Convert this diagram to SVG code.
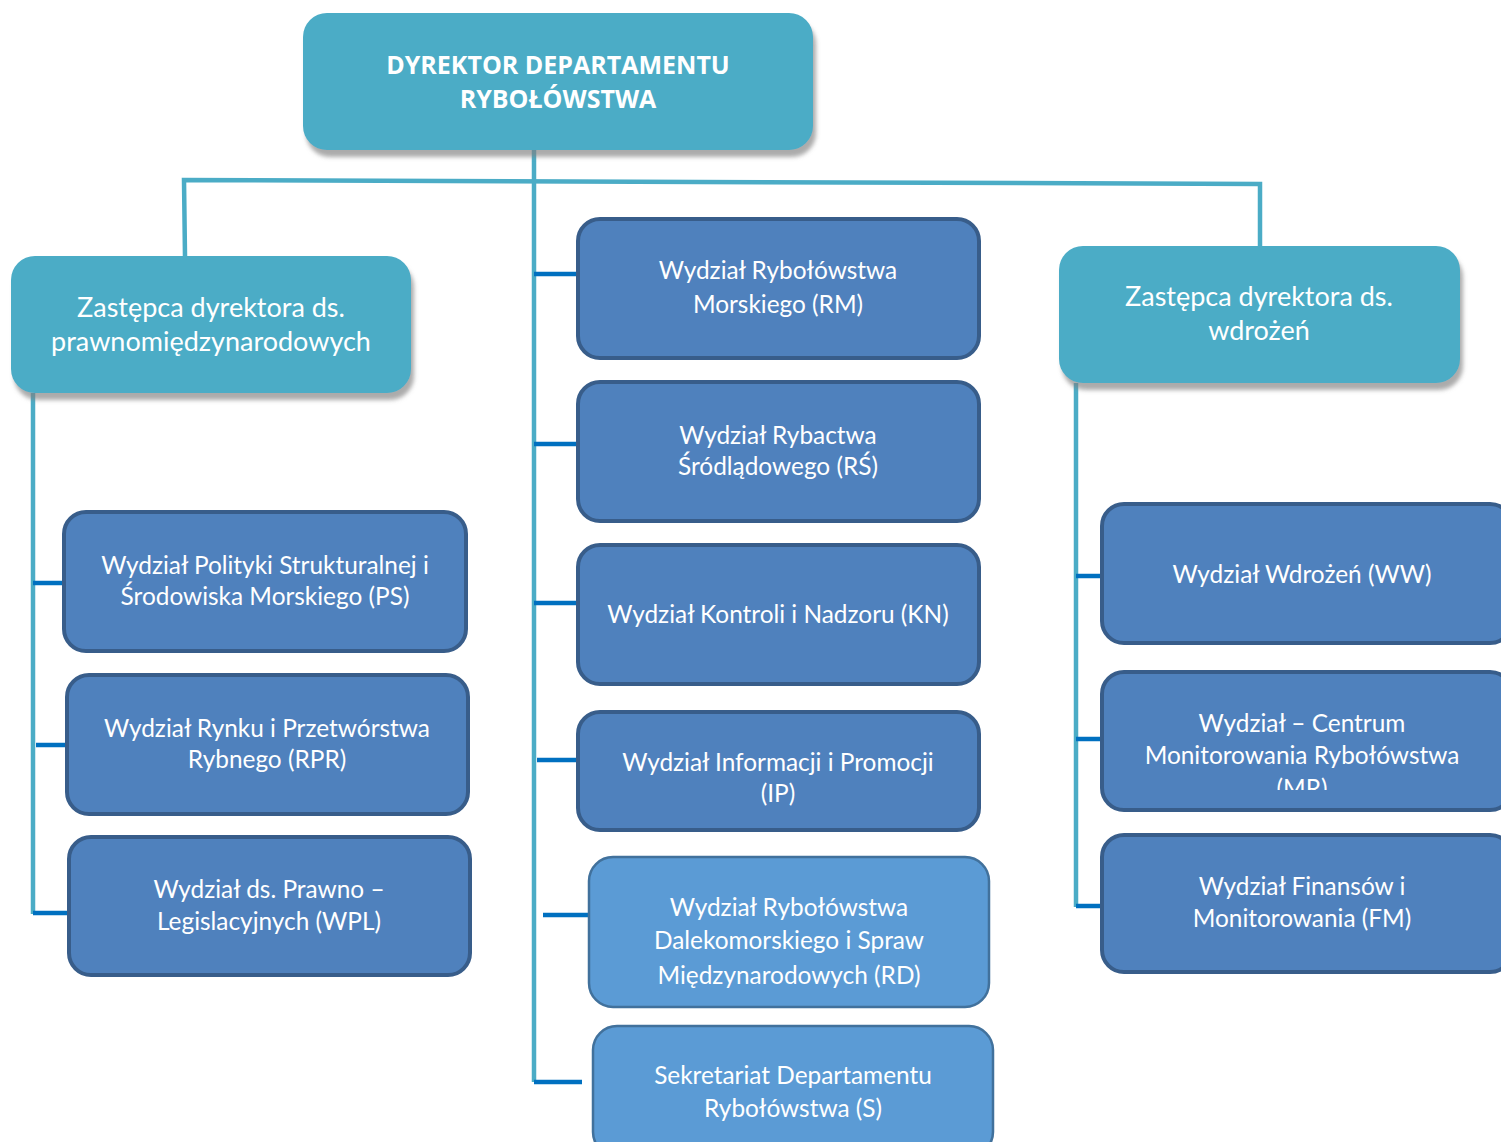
<svg xmlns="http://www.w3.org/2000/svg" width="1501" height="1142" viewBox="0 0 1501 1142">
<defs>
<filter id="sh" x="-10%" y="-10%" width="125%" height="140%">
<feDropShadow dx="3" dy="7" stdDeviation="2" flood-color="#7f7f7f" flood-opacity="0.65"/>
</filter>
<clipPath id="clipMR"><rect x="1101" y="671" width="400" height="119"/></clipPath>
</defs>
<style>
.lead{fill:#4BACC6;}
.dept{fill:#4F81BD;stroke:#385D8A;stroke-width:4;}
.light{fill:#5B9BD5;stroke:#41719C;stroke-width:2.5;}
.t{font-family:Lato,"Open Sans","Noto Sans",sans-serif;font-size:24.4px;fill:#ffffff;text-anchor:middle;}
.tl{font-size:27px;}
.tb{font-family:"Open Sans","Noto Sans",sans-serif;font-weight:bold;font-size:25px;fill:#ffffff;text-anchor:middle;}
.trunk{stroke:#4BACC6;stroke-width:4.5;fill:none;}
.br{stroke:#0070C0;stroke-width:4.5;fill:none;}
</style>
<g id="connectors">
<polyline class="trunk" points="185,256 184,180 1260,184 1260,246"/>
<line class="trunk" x1="534" y1="150" x2="534" y2="1082"/>
<line class="trunk" x1="33" y1="393" x2="33" y2="914"/>
<line class="trunk" x1="1076" y1="383" x2="1076" y2="907"/>
<line class="br" x1="33" y1="583" x2="64" y2="583"/>
<line class="br" x1="36" y1="745" x2="67" y2="745"/>
<line class="br" x1="33" y1="913" x2="69" y2="913"/>
<line class="br" x1="534" y1="274" x2="578" y2="274"/>
<line class="br" x1="534" y1="444" x2="578" y2="444"/>
<line class="br" x1="534" y1="603" x2="580" y2="603"/>
<line class="br" x1="537" y1="760" x2="583" y2="760"/>
<line class="br" x1="543" y1="915" x2="589" y2="915"/>
<line class="br" x1="534" y1="1082" x2="582" y2="1082"/>
<line class="br" x1="1076" y1="576" x2="1102" y2="576"/>
<line class="br" x1="1076" y1="739" x2="1102" y2="739"/>
<line class="br" x1="1076" y1="906" x2="1102" y2="906"/>
</g>
<g id="dyrektor">
<rect class="lead" x="303" y="13" width="510" height="137" rx="24" filter="url(#sh)"/>
<text class="tb" x="558" y="74">DYREKTOR DEPARTAMENTU</text>
<text class="tb" x="558" y="108">RYBOŁÓWSTWA</text>
</g>
<g id="zastepca-prawno">
<rect class="lead" x="11" y="256" width="400" height="137" rx="24" filter="url(#sh)"/>
<text class="t tl" x="211" y="317">Zastępca dyrektora ds.</text>
<text class="t tl" x="211" y="351">prawnomiędzynarodowych</text>
</g>
<g id="zastepca-wdrozen">
<rect class="lead" x="1059" y="246" width="401" height="137" rx="24" filter="url(#sh)"/>
<text class="t tl" x="1259" y="306">Zastępca dyrektora ds.</text>
<text class="t tl" x="1259" y="340">wdrożeń</text>
</g>
<g id="ps">
<rect class="dept" x="64" y="512" width="402" height="139" rx="22"/>
<text class="t" x="265" y="574">Wydział Polityki Strukturalnej i</text>
<text class="t" x="265" y="605">Środowiska Morskiego (PS)</text>
</g>
<g id="rpr">
<rect class="dept" x="67" y="675" width="401" height="139" rx="22"/>
<text class="t" x="267" y="737">Wydział Rynku i Przetwórstwa</text>
<text class="t" x="267" y="768">Rybnego (RPR)</text>
</g>
<g id="wpl">
<rect class="dept" x="69" y="837" width="401" height="138" rx="22"/>
<text class="t" x="269" y="898">Wydział ds. Prawno –</text>
<text class="t" x="269" y="930">Legislacyjnych (WPL)</text>
</g>
<g id="rm">
<rect class="dept" x="578" y="219" width="401" height="139" rx="22"/>
<text class="t" x="778" y="279">Wydział Rybołówstwa</text>
<text class="t" x="778" y="313">Morskiego (RM)</text>
</g>
<g id="rs">
<rect class="dept" x="578" y="382" width="401" height="139" rx="22"/>
<text class="t" x="778" y="444">Wydział Rybactwa</text>
<text class="t" x="778" y="475">Śródlądowego (RŚ)</text>
</g>
<g id="kn">
<rect class="dept" x="578" y="545" width="401" height="139" rx="22"/>
<text class="t" x="778" y="623">Wydział Kontroli i Nadzoru (KN)</text>
</g>
<g id="ip">
<rect class="dept" x="578" y="712" width="401" height="118" rx="22"/>
<text class="t" x="778" y="771">Wydział Informacji i Promocji</text>
<text class="t" x="778" y="802">(IP)</text>
</g>
<g id="rd">
<rect class="light" x="589" y="857" width="400" height="150" rx="24"/>
<text class="t" x="789" y="916">Wydział Rybołówstwa</text>
<text class="t" x="789" y="949">Dalekomorskiego i Spraw</text>
<text class="t" x="789" y="984">Międzynarodowych (RD)</text>
</g>
<g id="s">
<rect class="light" x="593" y="1026" width="400" height="130" rx="24"/>
<text class="t" x="793" y="1084">Sekretariat Departamentu</text>
<text class="t" x="793" y="1117">Rybołówstwa (S)</text>
</g>
<g id="ww">
<rect class="dept" x="1102" y="504" width="410" height="139" rx="22"/>
<text class="t" x="1302" y="583">Wydział Wdrożeń (WW)</text>
</g>
<g id="mr">
<rect class="dept" x="1102" y="672" width="410" height="138" rx="22"/>
<text class="t" x="1302" y="732">Wydział – Centrum</text>
<text class="t" x="1302" y="764">Monitorowania Rybołówstwa</text>
<text class="t" x="1302" y="797" clip-path="url(#clipMR)">(MR)</text>
</g>
<g id="fm">
<rect class="dept" x="1102" y="835" width="410" height="137" rx="22"/>
<text class="t" x="1302" y="895">Wydział Finansów i</text>
<text class="t" x="1302" y="927">Monitorowania (FM)</text>
</g>
</svg>
